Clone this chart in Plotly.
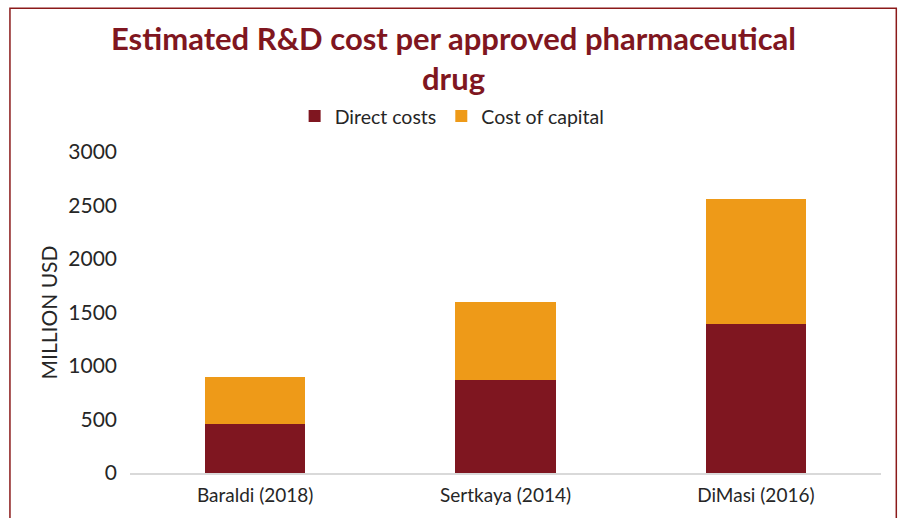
import plotly.graph_objects as go

categories = ["Baraldi (2018)", "Sertkaya (2014)", "DiMasi (2016)"]
direct_costs = [460, 870, 1395]
cost_of_capital = [440, 730, 1163]
y_ticks = [0, 500, 1000, 1500, 2000, 2500, 3000]

FONT = "Lato, 'DejaVu Sans', sans-serif"
TOP, BOT, LEFT, RIGHT = 152, 475.7, 130, 880.7
H = BOT - TOP
W = RIGHT - LEFT

def py(p):
    return (BOT - p) / H

def px(p):
    return (p - LEFT) / W

fig = go.Figure()
fig.add_trace(go.Bar(name="Direct costs", x=categories, y=direct_costs,
                     marker=dict(color="#7F1620", line=dict(width=0))))
fig.add_trace(go.Bar(name="Cost of capital", x=categories, y=cost_of_capital,
                     marker=dict(color="#EE9A18", line=dict(width=0))))

fig.update_layout(
    barmode="stack",
    bargap=0.6,
    width=902, height=518,
    margin=dict(l=130, r=21, t=152, b=42),
    paper_bgcolor="white", plot_bgcolor="white",
    font=dict(family=FONT, color="#262626"),
    legend=dict(orientation="h", x=px(452), xanchor="center", y=py(116), yanchor="middle",
                font=dict(size=19.5, color="#262626"), traceorder="normal",
                itemwidth=30),
    xaxis=dict(showline=True, linecolor="#D9D9D9", linewidth=1.5, ticks="",
               tickfont=dict(size=19, color="#262626"), ticklabelstandoff=4),
    yaxis=dict(range=[0, 3000], tickvals=y_ticks, showgrid=False, zeroline=False,
               showline=False, tickfont=dict(size=21, color="#262626"),
               title=dict(text="MILLION USD", font=dict(size=21, color="#262626"), standoff=4),
               ticklabelstandoff=12),
    showlegend=True,
)

fig.add_annotation(text="<b>Estimated R&D cost per approved pharmaceutical<br>drug</b>",
                   xref="paper", yref="paper", x=px(453), y=py(57),
                   xanchor="center", yanchor="middle", showarrow=False,
                   font=dict(size=31, color="#7F1620", family=FONT))

fig.add_shape(type="rect", xref="paper", yref="paper",
              x0=px(10), x1=px(896),
              y0=py(530), y1=py(7),
              line=dict(color="#8B1A1A", width=1.5), fillcolor="rgba(0,0,0,0)", layer="below")

fig.write_html("out.html")
